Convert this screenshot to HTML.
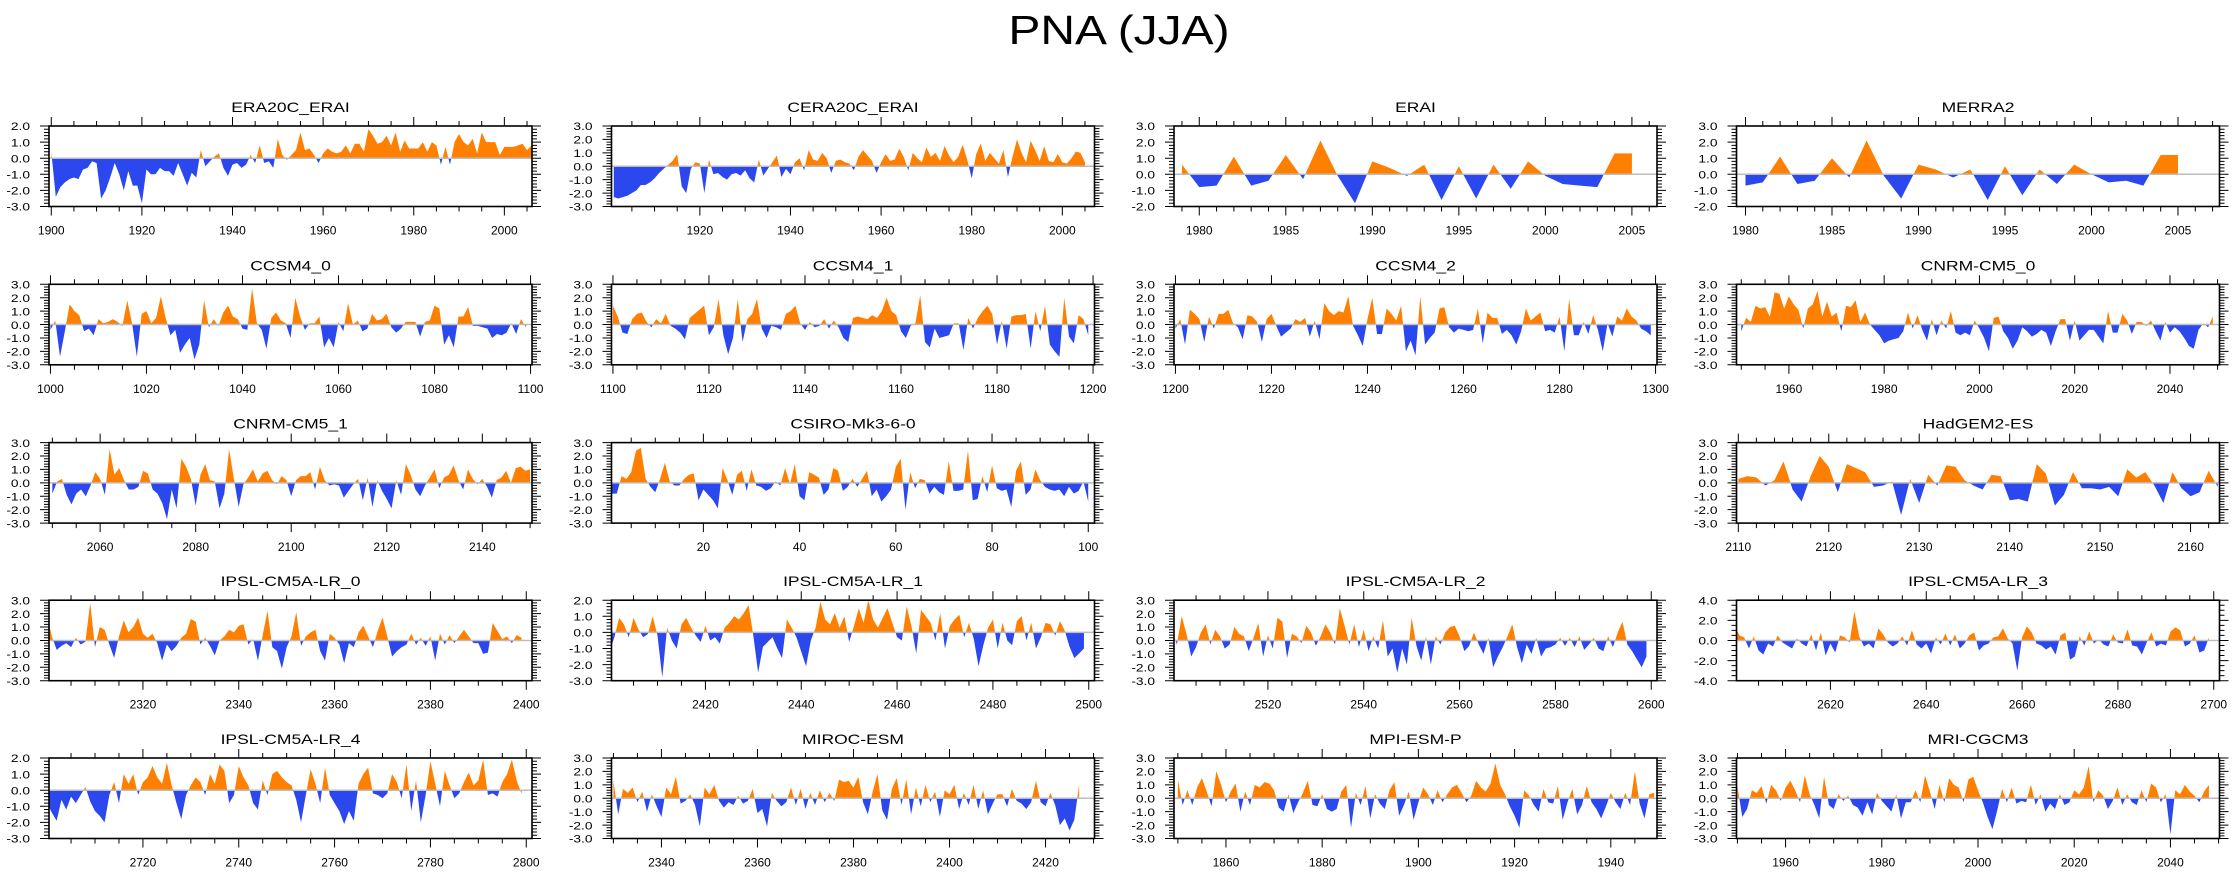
<!DOCTYPE html>
<html><head><meta charset="utf-8"><title>PNA (JJA)</title>
<style>
html,body{margin:0;padding:0;background:#fff;}
svg{display:block;font-family:"Liberation Sans",Arial,sans-serif;}
</style></head>
<body>
<svg id="chart" width="2238" height="876" viewBox="0 0 2238 876" xmlns="http://www.w3.org/2000/svg">
<rect width="2238" height="876" fill="#fff"/>
<g transform="translate(1119,44) scale(1.17,1)"><text x="0" y="0" font-size="41" text-anchor="middle" fill="#000">PNA (JJA)</text></g>
</svg>
<script>
// ---- series data ----
const era20c = [0.4,-2.4,-1.8,-1.5,-1.3,-1.2,-1.3,-0.7,-0.6,-0.2,-0.3,-2.5,-2.0,-1.2,-0.3,-1.0,-2.0,-0.8,-1.7,-1.7,-2.8,-0.7,-1.0,-1.0,-0.6,-0.8,-0.8,-1.1,-0.3,-1.0,-1.7,-0.9,-1.2,0.5,-0.5,-0.2,0.1,0.3,-0.6,-1.1,-0.4,-0.3,-0.6,-0.4,0.2,-0.3,0.8,-0.3,-0.2,-0.6,1.2,0.2,-0.1,0.2,0.5,1.6,0.5,0.6,0.2,-0.3,0.3,0.6,0.4,0.3,0.4,0.8,0.3,0.9,0.9,0.4,1.8,1.4,0.9,1.0,1.4,0.8,1.6,0.4,1.1,0.6,0.6,0.6,1.0,0.4,1.0,0.8,-0.4,0.7,-0.4,1.0,1.5,1.0,0.8,1.2,0.3,1.6,1.0,1.0,1.0,0.2,0.7,0.7,0.7,0.8,0.9,0.5,0.8];
const cera20c = [-2.3,-2.4,-2.3,-2.2,-2.0,-1.8,-1.4,-1.4,-1.2,-0.9,-0.5,-0.2,0.1,0.4,0.9,-1.5,-2.0,-0.2,0.3,0.2,-2.0,0.5,-0.6,-0.5,-0.8,-1.0,-0.6,-0.5,-0.7,-0.3,-0.9,-1.2,0.5,-0.7,-0.2,0.3,0.8,-0.8,-0.2,-0.6,0.3,0.6,-0.3,1.2,0.5,0.4,1.0,0.6,-0.5,0.4,0.5,0.3,0.2,-0.3,0.7,1.2,0.8,0.4,-0.5,0.3,0.9,0.4,0.5,1.3,0.7,-0.3,1.0,0.6,0.3,1.4,0.7,1.0,0.4,1.5,0.8,0.3,0.7,1.6,0.5,-0.9,0.9,1.7,0.4,1.0,0.6,0.2,1.2,-0.8,0.7,2.0,1.0,0.3,1.9,1.2,0.4,1.5,0.4,0.3,0.9,0.3,0.2,0.6,1.1,1.0,0.3];
const erai = [0.6,-0.8,-0.7,1.1,-0.7,-0.4,1.2,-0.3,2.1,-0.1,-1.8,0.8,0.4,-0.1,0.6,-1.6,0.5,-1.5,0.6,-0.9,0.8,-0.1,-0.6,-0.7,-0.8,1.3,1.3];
const merra2 = [-0.7,-0.5,1.1,-0.6,-0.4,1.0,-0.2,2.1,-0.1,-1.5,0.6,0.3,-0.2,0.3,-1.6,0.5,-1.3,0.3,-0.6,0.6,0.0,-0.5,-0.4,-0.7,1.2,1.2];
const ccsm4_0 = [-0.4,0.3,-2.4,-0.5,1.5,1.0,0.7,-0.5,-0.3,-0.8,0.4,0.1,0.2,0.4,0.2,-0.1,1.8,0.1,-2.4,0.8,1.0,0.1,0.5,2.1,0.5,-0.8,-0.4,-2.1,-1.5,-1.0,-2.6,-1.5,1.8,-0.2,0.4,-0.1,0.9,1.4,0.6,0.4,-0.3,-0.4,2.7,0.1,-0.4,-1.8,0.5,0.9,0.3,0.1,-1.0,2.0,0.6,-0.4,0.1,0.1,0.6,-1.7,-1.0,-1.7,0.2,-0.5,1.6,0.0,0.3,-0.5,-0.3,0.8,0.3,0.4,0.8,-0.2,-0.6,-0.3,0.2,0.2,0.2,-0.9,0.2,0.3,1.4,1.2,-1.5,-0.8,-1.7,0.6,0.6,1.3,-0.1,-0.1,-0.2,-0.3,-1.0,-0.7,-0.8,-0.6,0.1,-0.7,0.4,-0.2];
const ccsm4_1 = [1.4,0.6,-0.6,-0.7,0.4,0.8,0.9,0.2,-0.2,0.4,0.1,0.8,-0.1,-0.3,-0.6,-1.1,0.5,0.8,1.1,1.4,-0.8,-0.2,1.9,-0.8,-2.2,-1.0,1.9,-1.3,0.4,0.8,1.9,-0.3,-1.0,-0.1,-0.2,-0.4,0.8,1.0,1.4,0.1,-0.4,0.2,-0.2,-0.1,0.4,-0.3,0.3,-0.2,-1.0,-1.3,0.5,0.6,0.5,0.4,0.7,0.5,1.0,2.0,1.0,0.7,-0.5,-1.0,-0.1,0.1,2.2,-1.3,-1.7,-0.3,-1.0,-0.9,-0.8,0.1,0.1,-1.9,0.5,-0.3,0.5,1.0,1.4,0.8,-1.5,0.3,-1.8,0.6,0.7,0.7,0.8,-1.8,1.0,-0.5,1.4,-1.5,-2.0,-2.4,2.0,-0.9,-1.4,0.7,0.4,-0.8];
const ccsm4_2 = [-0.3,0.4,-1.5,1.1,0.8,0.4,-1.3,0.6,-0.3,0.8,0.8,1.1,0.1,-0.2,-1.1,0.7,0.6,0.2,-1.3,0.4,0.8,-0.1,-0.9,-0.6,-0.3,0.4,0.2,0.5,-0.9,0.3,-1.1,1.6,1.0,0.7,1.0,0.9,2.1,-0.1,-0.8,-1.6,0.4,2.0,-0.7,-0.7,1.2,0.8,0.3,1.4,-2.0,-1.2,-2.3,2.1,-1.5,-1.0,-0.6,1.2,1.3,-0.2,-0.6,-0.3,-0.4,-0.5,-0.4,1.2,-1.4,0.9,0.5,0.5,-0.7,-0.4,-0.8,-1.5,-0.5,1.2,0.3,0.6,0.9,-0.5,-0.4,-0.6,0.6,-2.0,1.9,-0.8,-0.8,0.2,-0.7,0.7,-0.4,-2.0,0.1,-0.9,0.6,0.3,1.2,0.6,0.3,-0.3,-0.5,-0.8];
const cnrm_0 = [-0.5,0.5,0.2,1.4,1.2,1.3,0.6,2.4,2.3,1.2,2.1,1.5,1.1,-0.3,1.2,1.5,2.5,0.6,1.7,0.6,0.9,-0.5,1.4,1.3,1.8,0.2,0.9,0.0,-0.4,-0.8,-1.4,-1.2,-1.1,-1.0,-0.5,0.9,-0.3,0.7,-0.4,-1.2,0.4,-0.8,0.3,-0.3,1.0,-0.6,-0.8,-0.6,-0.8,0.3,-0.3,-1.0,-2.0,0.5,0.6,-0.5,-1.0,-1.8,-1.2,-0.2,-0.5,-0.9,-0.7,-0.4,-0.6,-1.6,-0.5,0.4,0.4,-1.2,0.3,-1.2,-0.8,-0.4,-0.4,-0.9,-1.4,1.0,-0.6,-0.6,0.8,0.3,-0.7,0.2,0.2,-0.1,0.3,-0.5,-1.2,0.2,-0.6,-0.2,-0.5,-1.0,-1.6,-1.8,-0.4,0.1,-0.2,0.6];
const cnrm_1 = [-0.8,0.1,0.3,-0.9,-1.6,-0.8,-0.5,-1.0,-0.2,0.8,0.3,-0.9,2.5,0.6,1.1,0.2,-0.5,-0.5,-0.3,0.9,0.7,-0.5,-0.8,-1.5,-2.7,-0.5,-1.9,1.8,1.2,0.3,-1.7,0.6,1.4,0.2,0.1,-1.9,-0.8,2.5,0.3,-1.8,-0.1,0.4,1.0,0.1,0.7,0.9,0.2,-0.1,0.5,0.2,-1.0,0.2,0.5,0.5,0.8,-0.5,1.2,0.2,-0.2,-0.1,-0.2,-1.1,-0.6,-0.1,0.3,-1.3,0.4,-1.8,0.2,-0.6,-1.2,-1.9,0.2,-0.9,1.4,0.6,-0.5,-1.0,-0.2,0.4,1.0,-0.4,0.4,0.6,1.3,0.2,-0.5,1.0,0.3,-0.1,0.3,-0.3,-1.1,0.2,0.4,0.9,0.0,1.1,1.2,0.9,1.0];
const csiro = [-0.8,-0.8,0.5,0.3,0.8,2.4,2.6,0.3,-0.3,-0.7,0.3,1.5,0.1,-0.2,-0.2,0.3,0.6,0.7,-1.3,-0.5,-0.9,-1.3,-1.9,1.1,0.2,-0.9,0.6,0.9,-0.6,1.0,-0.2,-0.3,-0.6,-0.4,0.1,-0.2,1.1,-0.1,1.4,-1.0,-1.3,0.8,0.6,0.4,-0.9,-0.5,1.1,0.9,-0.6,-0.3,0.3,-0.3,0.3,0.9,-1.0,-0.5,-1.4,-1.0,-0.5,1.2,1.8,-2.0,0.8,-0.4,0.3,0.2,-0.8,-0.3,-0.7,-0.9,1.6,-0.6,-0.6,-0.5,2.4,-1.3,-1.2,0.5,-0.7,1.3,-0.4,-0.6,-0.5,-1.8,0.9,1.6,-0.9,-0.5,1.0,0.2,-0.3,-0.5,-0.6,-0.5,-1.0,-0.3,-0.8,-0.6,0.1,-1.4];
const hadgem = [0.3,0.5,0.4,-0.2,0.2,1.6,-0.5,-1.4,0.5,2.0,1.2,-0.7,1.4,1.1,0.8,-0.3,-0.2,0.1,-2.4,0.3,-1.5,0.6,-0.2,1.3,1.2,0.2,-0.2,-0.5,0.6,0.5,-1.3,-1.2,-1.4,1.4,0.7,-1.7,-0.9,0.8,-0.4,-0.4,-0.5,-0.3,-1.0,1.0,0.4,0.8,-0.2,-1.5,0.8,-0.4,-1.0,-0.7,0.9,-0.3];
const ipsl_0 = [1.8,0.3,-0.7,-0.4,-0.2,-0.5,0.2,-0.3,-0.1,2.8,-0.5,1.0,0.8,-0.3,-1.3,0.3,1.5,0.6,1.0,1.7,0.5,0.2,0.5,-0.2,-1.5,-0.3,-0.8,-0.4,0.2,0.5,1.6,1.4,-0.3,0.2,-0.4,-1.1,0.0,0.3,0.8,0.6,1.1,1.2,-0.3,0.1,-1.5,0.4,2.2,-0.5,-0.8,-2.1,-0.5,0.3,2.1,-0.4,0.3,0.6,0.8,-0.8,-1.5,0.5,0.2,-0.3,-1.7,-0.2,-0.5,0.6,1.1,0.3,-0.5,0.7,1.7,0.3,-1.2,-0.8,-0.5,-0.3,0.5,-0.3,0.2,-0.4,0.3,-1.5,0.5,-0.3,0.4,-0.2,0.3,0.8,0.3,-0.2,-0.2,-1.0,-0.9,1.3,0.7,0.1,0.3,-0.2,0.4,0.2];
const ipsl_1 = [-1.2,-0.3,0.9,0.5,-0.3,0.9,0.2,-0.3,-0.1,1.0,-0.2,-2.8,0.3,-0.5,-1.0,0.5,0.9,0.3,-0.2,-0.6,0.4,-0.5,-0.3,-0.7,0.3,0.6,1.0,0.8,1.2,1.7,-0.2,-2.5,-0.9,-0.6,-0.3,-1.0,-1.6,0.8,0.3,-0.3,-1.2,-2.1,-0.5,0.3,1.9,0.8,0.5,1.2,0.3,1.0,-0.6,0.4,1.5,0.6,2.0,0.8,0.3,0.9,1.5,0.6,-0.3,-0.5,1.6,0.4,-1.3,1.4,1.0,0.6,-0.5,1.2,-1.0,0.4,0.8,1.1,-0.3,0.6,-0.4,-2.1,-0.8,0.3,0.8,-1.0,0.6,-0.5,-0.8,0.7,1.0,-0.5,0.6,-1.0,-0.3,0.6,0.5,-0.2,0.7,0.1,-0.9,-1.6,-1.3,-1.0];
const ipsl_2 = [0.8,-0.3,1.8,0.5,-1.2,-0.5,0.6,1.2,-0.3,0.8,0.3,-0.6,-0.3,1.0,0.5,0.3,-0.8,0.2,1.3,-1.2,0.4,-0.6,1.7,1.4,-1.3,0.5,0.3,-0.2,1.1,0.6,-0.4,0.3,1.2,0.6,-0.3,2.4,1.1,-0.3,1.2,-0.5,0.8,-0.8,0.3,-0.6,1.5,-1.2,-0.6,-2.4,-0.6,-1.8,1.7,-0.4,-1.5,0.3,-1.8,0.3,-0.3,0.6,1.0,1.1,0.3,-0.8,-0.4,0.6,-0.3,-1.0,0.2,-2.0,-1.2,-0.5,0.3,1.2,-0.5,-1.7,-0.3,-1.0,0.2,-1.2,-0.6,-0.5,-0.3,0.2,-0.4,0.2,-0.5,0.3,-0.7,-0.3,0.2,-0.6,-0.8,0.3,-0.5,0.6,1.4,-0.3,-0.8,-1.4,-2.0,-1.2];
const ipsl_3 = [1.6,0.5,0.3,-0.8,0.4,-1.0,-1.4,-0.3,-0.6,0.5,-0.2,-0.5,-0.8,0.2,-0.3,-0.6,0.6,-1.0,0.8,-1.5,-0.3,-1.2,0.5,0.3,-0.2,2.9,0.4,-0.6,-0.3,-0.8,1.2,0.6,-0.2,-0.6,-0.3,0.4,-0.5,1.0,-0.4,-0.8,-0.3,-1.3,0.3,-0.4,0.7,-0.5,0.6,-0.8,-0.3,0.5,0.8,-1.0,-0.5,-0.3,0.3,0.4,1.2,0.2,-0.3,-3.0,0.3,1.4,0.8,-0.3,-0.5,-0.9,-0.6,-1.4,0.5,0.8,-1.9,-1.6,0.4,-0.5,0.9,-0.3,0.1,-0.4,-0.6,0.6,-0.2,-0.3,1.1,-0.5,-0.6,-1.4,-0.2,0.8,-0.6,-0.3,-0.5,0.9,1.3,1.0,-0.6,-0.3,0.5,-1.2,-1.0,0.3];
const ipsl_4 = [-0.8,-1.4,-1.9,-0.6,-1.2,-0.4,-0.8,-0.3,0.2,-0.7,-1.3,-1.6,-2.0,-0.3,0.5,-0.8,1.0,0.4,1.0,-0.3,0.5,0.8,1.5,0.8,0.4,1.7,0.3,-0.8,-1.8,-0.3,0.3,0.8,0.5,-0.3,1.0,0.4,1.6,1.2,-0.8,-0.3,1.5,0.8,0.3,-0.8,-1.2,0.6,-0.3,1.0,1.2,0.8,0.5,0.3,-0.6,-2.0,-0.3,1.3,0.4,-0.8,1.4,-0.3,-0.8,-1.3,-2.1,-1.3,-1.9,0.4,1.0,1.4,-0.2,-0.3,-0.5,-0.2,1.0,0.5,-0.5,1.6,-1.3,0.6,-2.0,-0.3,1.8,0.4,-1.0,1.2,0.3,-0.5,-0.2,0.5,1.1,0.3,0.6,1.9,-0.3,-0.2,-0.4,0.5,1.0,1.9,0.6,-0.2];
const miroc = [1.3,-1.2,0.7,0.4,0.8,-0.3,0.5,-1.0,0.3,-0.6,-1.4,0.8,0.3,1.6,-0.4,-0.2,0.3,-0.5,-2.1,0.8,0.3,1.0,-0.2,-0.7,-0.3,-0.5,0.2,-0.4,-0.2,0.7,-1.1,-0.8,-2.1,0.4,-0.2,-0.6,-0.3,0.8,-0.5,0.7,-0.8,0.4,-0.5,0.6,-0.3,0.4,-0.2,1.4,1.2,1.3,0.8,1.6,-0.3,-1.2,0.5,1.8,-0.9,-1.6,0.7,1.5,-0.5,1.4,-1.2,0.8,-0.6,1.0,-0.3,0.5,-1.4,0.6,0.3,1.0,-0.8,0.4,-0.5,1.0,-0.8,0.6,-1.2,-0.4,0.3,0.3,-0.6,0.7,-0.2,-0.4,-0.8,-0.3,1.3,-0.3,-0.6,0.4,-0.5,-2.0,-1.5,-2.4,-1.6,1.0];
const mpi = [1.4,-0.5,0.6,-0.5,0.8,1.5,0.5,-0.6,2.0,1.0,-0.3,0.5,1.1,-1.0,0.5,-0.5,1.0,0.8,1.2,1.1,0.6,-0.7,-1.0,0.3,-1.1,-0.3,0.4,1.3,-0.5,-0.6,0.3,-0.8,-1.0,-0.8,0.5,1.0,-2.2,0.4,-0.5,0.9,-1.5,0.3,-0.4,-0.8,0.6,1.2,-1.3,-0.5,0.5,-1.6,-0.3,0.8,0.3,-0.5,0.6,-0.3,0.3,0.8,1.0,0.4,-0.3,0.2,1.3,0.8,0.5,1.1,2.6,1.0,0.3,-0.6,-1.3,-2.2,0.6,0.2,-0.5,-1.0,0.7,-0.3,-0.4,0.9,-1.6,-0.3,0.7,-1.2,-0.5,0.9,-0.3,-0.8,-1.5,-0.6,0.4,-0.3,-0.8,0.4,-0.5,2.0,-0.4,-1.5,0.3,0.4];
const mri = [0.9,-1.4,-0.8,0.6,0.4,0.9,-0.4,1.0,0.6,-0.2,0.8,1.3,0.6,-0.3,1.7,0.3,-0.5,-1.5,1.6,-0.5,-0.8,0.3,-0.2,0.2,-0.5,-0.7,-1.3,-0.3,-1.2,0.4,-0.2,-0.6,-1.0,0.3,-1.5,-0.3,-0.3,0.6,-0.3,1.7,0.5,-0.8,1.0,-0.3,1.5,1.0,0.8,-0.3,1.4,1.6,0.6,-0.3,-1.4,-2.3,-0.9,0.7,-0.3,0.8,-0.4,-0.2,-0.3,1.0,-0.5,0.3,-1.0,-0.4,-0.8,0.3,-0.5,-0.3,0.6,0.3,0.8,2.4,-0.3,0.6,0.2,-0.8,-0.2,0.8,-0.5,0.3,-0.3,-0.5,0.6,-0.3,1.1,0.8,-0.3,0.3,-2.7,0.6,0.3,1.0,0.5,0.2,-0.3,0.5,1.0];

// ---- panel configuration ----
const panelTitles = ['ERA20C_ERAI','CERA20C_ERAI','ERAI','MERRA2','CCSM4_0','CCSM4_1','CCSM4_2','CNRM-CM5_0','CNRM-CM5_1','CSIRO-Mk3-6-0','HadGEM2-ES','IPSL-CM5A-LR_0','IPSL-CM5A-LR_1','IPSL-CM5A-LR_2','IPSL-CM5A-LR_3','IPSL-CM5A-LR_4','MIROC-ESM','MPI-ESM-P','MRI-CGCM3'];
const panelSeries = [era20c,cera20c,erai,merra2,ccsm4_0,ccsm4_1,ccsm4_2,cnrm_0,cnrm_1,csiro,hadgem,ipsl_0,ipsl_1,ipsl_2,ipsl_3,ipsl_4,miroc,mpi,mri];
const panelStartYear = [1900,1901,1979,1980,1000,1100,1200,1950,2050,1,2110,2300,2400,2500,2600,2700,2330,1850,1950];
const panelXMin = [1899.5,1900.5,1978.54,1979.48,999.7,1099.7,1199.7,1949.0,2049.3,0.9,2109.8,2300.4,2400.4,2500.4,2600.4,2700.4,2329.6,1849.2,1949.8];
const panelXMax = [2006.1,2007.1,2006.45,2007.4,1100.3,1200.3,1300.3,2050.4,2150.4,101.3,2163.2,2401.2,2501.2,2601.2,2701.2,2801.2,2430.2,1949.6,2050.2];
const panelMajor = [20,20,5,5,20,20,20,20,20,20,10,20,20,20,20,20,20,20,20];
const panelMinor = [5,5,1,1,5,5,5,5,5,5,2,5,5,5,5,5,5,5,5];
const panelYMin = [-3,-3,-2,-2,-3,-3,-3,-3,-3,-3,-3,-3,-3,-3,-4,-3,-3,-3,-3];
const panelYMax = [2,3,3,3,3,3,3,3,3,3,3,3,2,3,4,2,3,3,3];
const panelYStep = [1,1,1,1,1,1,1,1,1,1,1,1,1,1,2,1,1,1,1];
const panelCell = [[0,0],[0,1],[0,2],[0,3],[1,0],[1,1],[1,2],[1,3],[2,0],[2,1],[2,3],[3,0],[3,1],[3,2],[3,3],[4,0],[4,1],[4,2],[4,3]];

const NS = 'http://www.w3.org/2000/svg';
const svg = document.getElementById('chart');
const COLX = [49, 611.5, 1174, 1736.5];
const ROWY = [126, 284.3, 442.6, 600.2, 758];
const PW = 483, PH = 80.5;

function mk(tag, attrs, parent) {
  const el = document.createElementNS(NS, tag);
  for (const k in attrs) el.setAttribute(k, attrs[k]);
  parent.appendChild(el);
  return el;
}
function slug(s){ return s.toLowerCase().replace(/[^a-z0-9]+/g,'-').replace(/^-|-$/g,''); }

panelTitles.forEach((title, p) => {
  const [r, c] = panelCell[p];
  const L = COLX[c], T = ROWY[r], R = L + PW, B = T + PH;
  const x0 = panelXMin[p], x1 = panelXMax[p], y0 = panelYMin[p], y1 = panelYMax[p];
  const sx = v => L + (v - x0) / (x1 - x0) * PW;
  const sy = v => B - (v - y0) / (y1 - y0) * PH;
  const id = slug(title);

  const g = mk('g', {}, svg);
  
  

  const clipA = 'clipA' + p, clipB = 'clipB' + p;
  const defs = mk('defs', {}, g);
  const ca = mk('clipPath', {id: clipA}, defs);
  mk('rect', {x: L, y: T, width: PW, height: sy(0) - T}, ca);
  const cb = mk('clipPath', {id: clipB}, defs);
  mk('rect', {x: L, y: sy(0), width: PW, height: B - sy(0)}, cb);

  const data = panelSeries[p];
  const start = panelStartYear[p];
  let pts = [];
  pts.push(sx(start).toFixed(2) + ',' + sy(0).toFixed(2));
  data.forEach((v, i) => pts.push(sx(start + i).toFixed(2) + ',' + sy(v).toFixed(2)));
  pts.push(sx(start + data.length - 1).toFixed(2) + ',' + sy(0).toFixed(2));
  const ptsStr = pts.join(' ');

  const pos = mk('polygon', {points: ptsStr, fill: '#ff8000', 'clip-path': 'url(#' + clipA + ')'}, g);
  
  
  const neg = mk('polygon', {points: ptsStr, fill: '#2b47ee', 'clip-path': 'url(#' + clipB + ')'}, g);
  
  

  const zl = mk('line', {x1: L, x2: R, y1: sy(0), y2: sy(0), stroke: '#bdbdbd', 'stroke-width': 1.5}, g);
  
  

  // ticks
  let d = '';
  const eps = 1e-6;
  for (let t = Math.ceil(x0 / panelMinor[p]) * panelMinor[p]; t <= x1 + eps; t += panelMinor[p]) {
    const major = Math.abs(t / panelMajor[p] - Math.round(t / panelMajor[p])) < eps;
    const len = major ? 9 : 5;
    const X = sx(t).toFixed(2);
    d += `M${X},${B}v${len}M${X},${T}v${-len}`;
  }
  const ystepMinor = panelYStep[p] === 2 ? 0.5 : 0.2;
  const nY = Math.round((y1 - y0) / ystepMinor);
  for (let k = 0; k <= nY; k++) {
    const v = y0 + k * ystepMinor;
    const major = Math.abs(v / panelYStep[p] - Math.round(v / panelYStep[p])) < eps;
    const len = major ? 9 : 5;
    const Y = sy(v).toFixed(2);
    d += `M${L},${Y}h${-len}M${R},${Y}h${len}`;
  }
  const tk = mk('path', {d: d, stroke: '#000', 'stroke-width': 1, fill: 'none'}, g);
  
  

  const box = mk('rect', {x: L, y: T, width: PW, height: PH, fill: 'none', stroke: '#000', 'stroke-width': 1.6}, g);
  
  

  // x labels
  for (let t = Math.ceil(x0 / panelMajor[p]) * panelMajor[p]; t <= x1 + eps; t += panelMajor[p]) {
    const tx = mk('text', {x: sx(t).toFixed(2), y: B + 28, 'font-size': 12, 'text-anchor': 'middle', fill: '#000'}, g);
    
    
    tx.textContent = String(t);
  }
  // y labels
  for (let v = y0; v <= y1 + eps; v += panelYStep[p]) {
    const gg = mk('g', {transform: `translate(${L - 19},${(sy(v) + 4.2).toFixed(2)}) scale(1.25,1)`}, g);
    const ty = mk('text', {x: 0, y: 0, 'font-size': 11, 'text-anchor': 'end', fill: '#000'}, gg);
    
    
    ty.textContent = v.toFixed(1);
  }
  // title
  const tg = mk('g', {transform: `translate(${L + PW / 2},${T - 14}) scale(1.25,1)`}, g);
  const tt = mk('text', {x: 0, y: 0, 'font-size': 14, 'text-anchor': 'middle', fill: '#000'}, tg);
  
  
  tt.textContent = title;
});
</script>
</body></html>
